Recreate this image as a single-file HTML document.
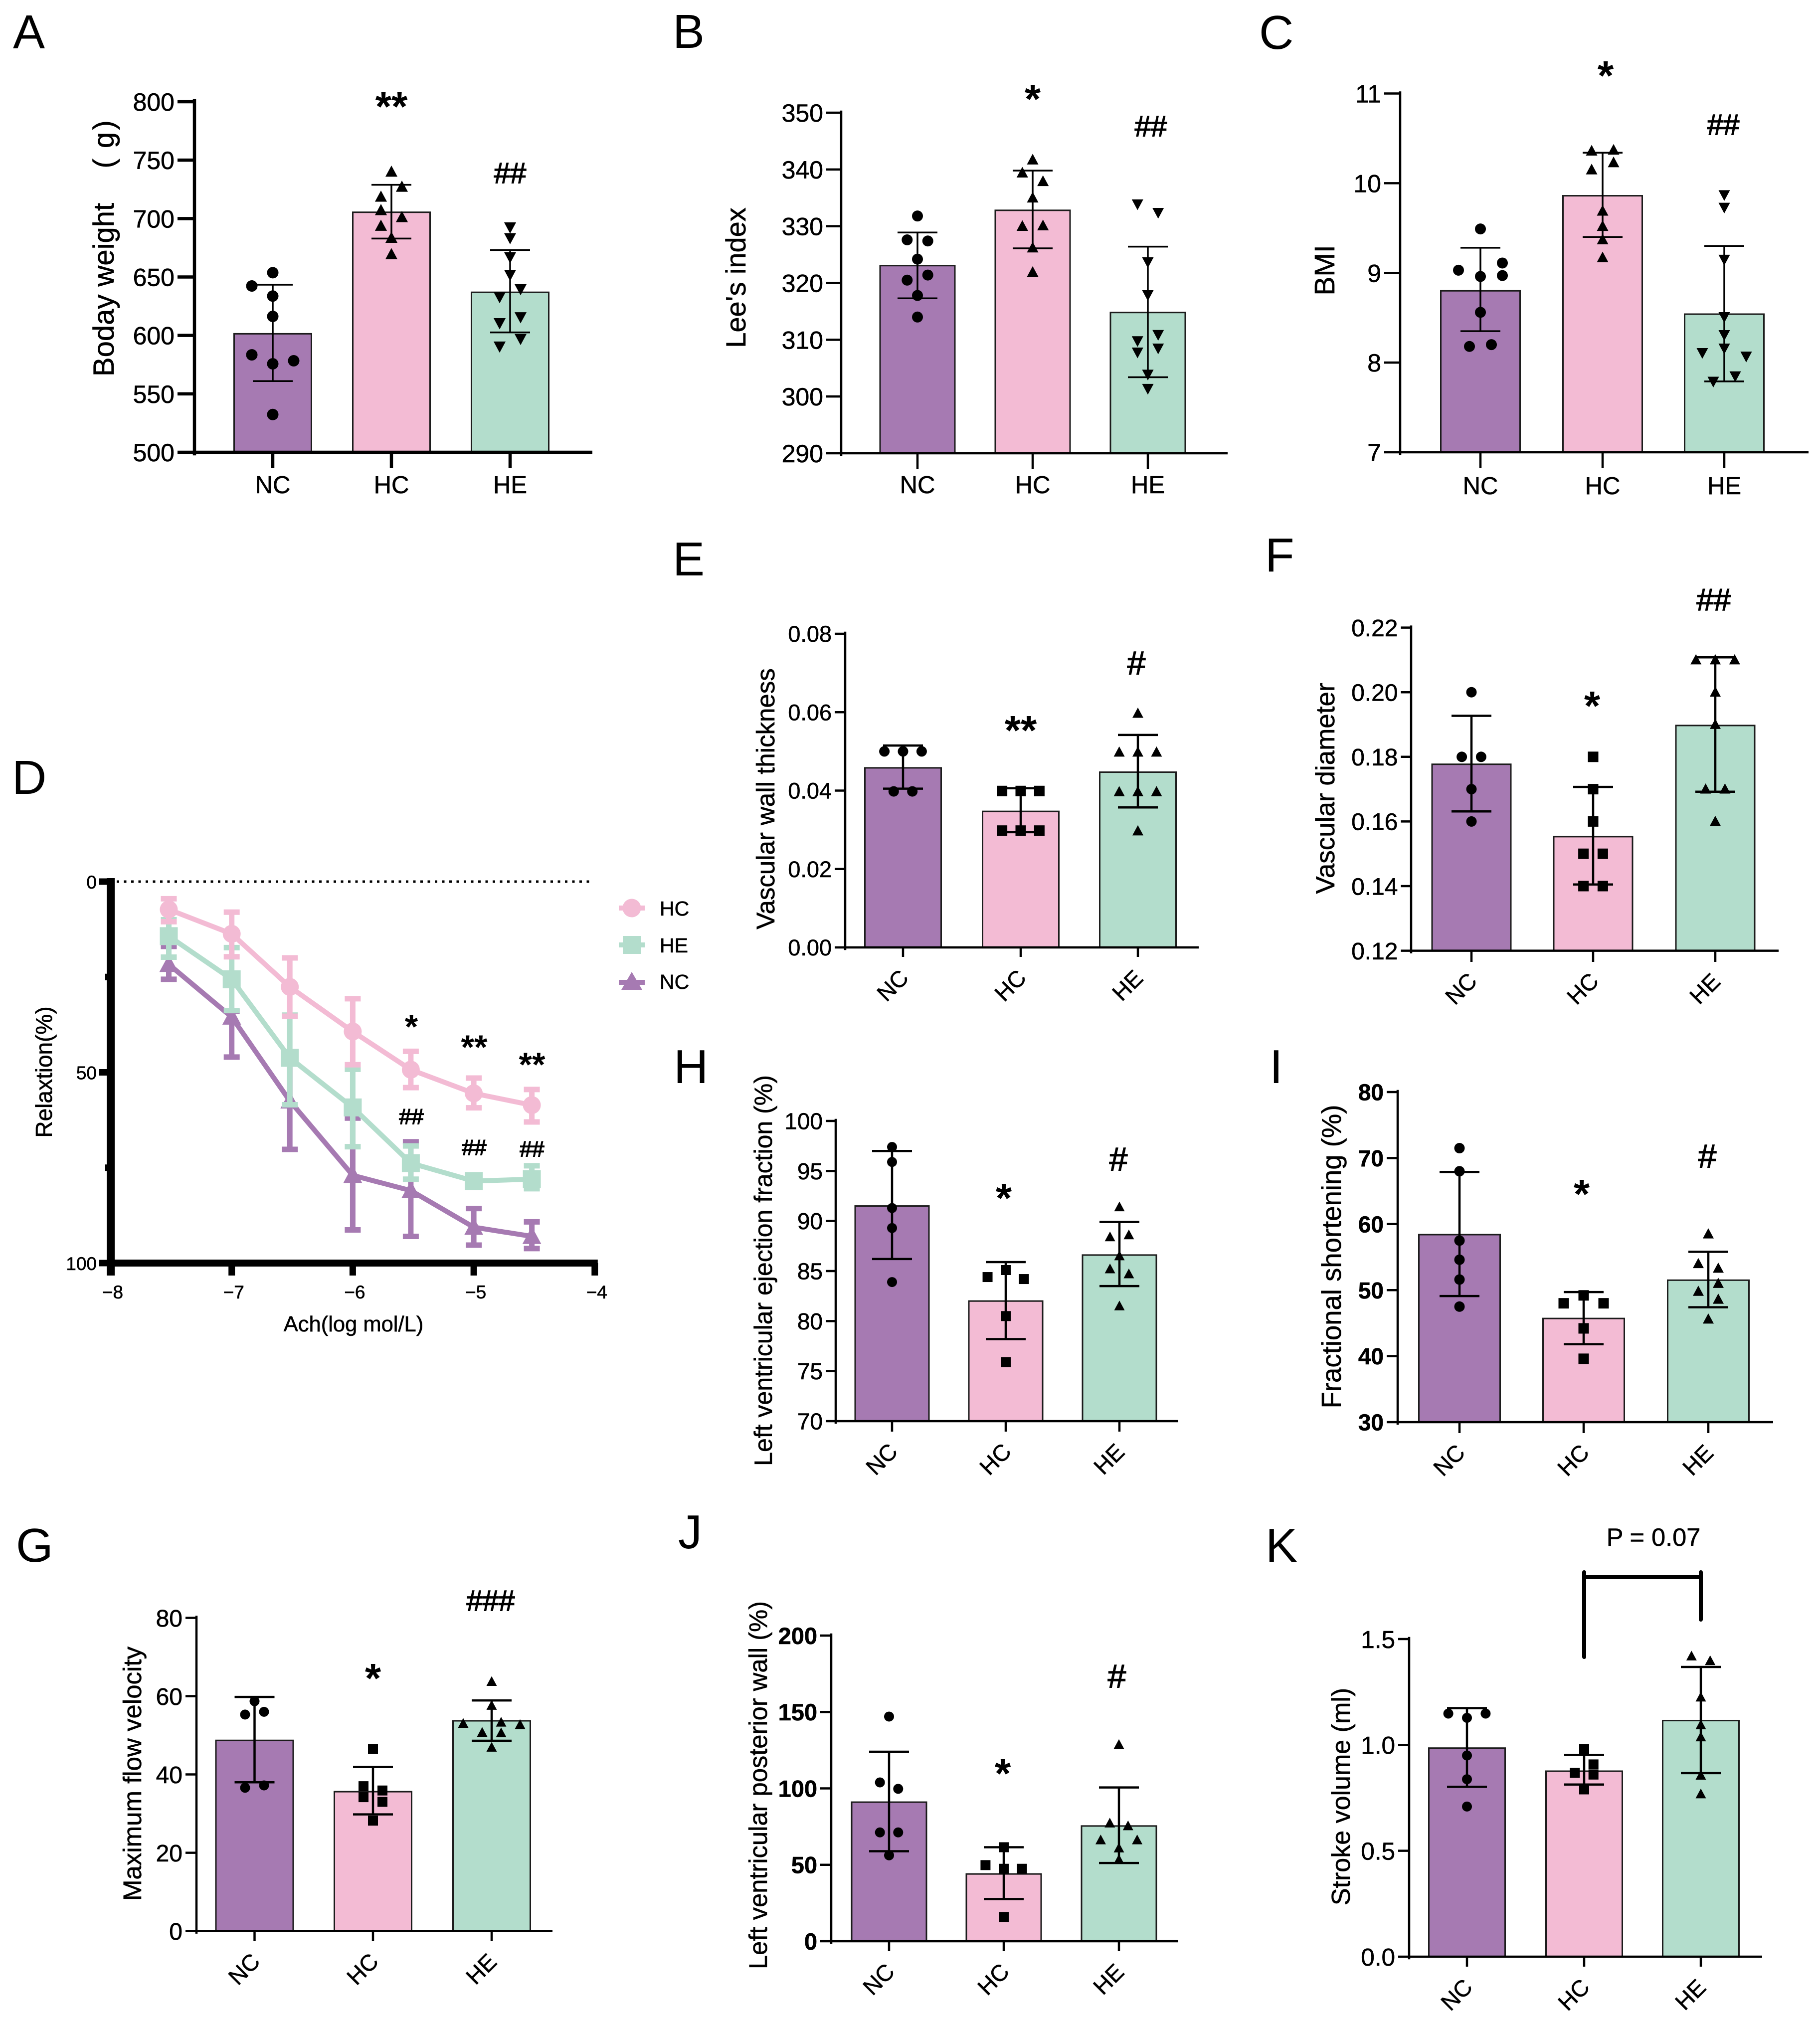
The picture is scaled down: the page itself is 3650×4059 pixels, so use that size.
<!DOCTYPE html>
<html lang="en">
<head>
<meta charset="utf-8">
<title>Panel figure: body metrics, vascular relaxation and cardiac function</title>
<style>
  html, body { margin: 0; padding: 0; background: #fff; }
  #figure { display: block; width: 3650px; height: 4059px; background: #fff; }
  text { font-family: "Liberation Sans", "Noto Sans CJK SC", sans-serif; fill: #000; stroke: #000; stroke-width: 0.6px; }
  .letter { font-size: 96px; stroke-width: 0; }
  .title { text-anchor: middle; }
  .star { font-weight: bold; font-size: 83px; text-anchor: middle; stroke-width: 0; }
  .hash { font-size: 58px; text-anchor: middle; stroke-width: 1.6px; }
  .hash-single { font-size: 66px; }
</style>
</head>
<body>
<svg id="figure" xmlns="http://www.w3.org/2000/svg" width="3650" height="4059" viewBox="0 0 3650 4059">
  <rect width="3650" height="4059" fill="#fff"/>

  <g>
    <text class="letter" x="26" y="97">A</text>
    <text class="letter" x="1349" y="96">B</text>
    <text class="letter" x="2525" y="98">C</text>
    <text class="letter" x="24" y="1592">D</text>
    <text class="letter" x="1349" y="1154">E</text>
    <text class="letter" x="2537" y="1146">F</text>
    <text class="letter" x="32" y="3132">G</text>
    <text class="letter" x="1351" y="2172">H</text>
    <text class="letter" x="2546" y="2172">I</text>
    <text class="letter" x="1360" y="3105">J</text>
    <text class="letter" x="2538" y="3132">K</text>
  </g>

  <g>
    <text class="title" font-size="58" transform="translate(228,581) rotate(-90)">Boday weight</text>
    <text class="title" font-size="58" transform="translate(228,328) rotate(-90)">(</text>
    <text class="title" font-size="58" transform="translate(228,281) rotate(-90)">g</text>
    <text class="title" font-size="58" transform="translate(228,251) rotate(-90)">)</text>
    <text class="title" font-size="56" transform="translate(1495,557) rotate(-90)">Lee's index</text>
    <text class="title" font-size="57" transform="translate(2676,542) rotate(-90)">BMI</text>
    <text class="title" font-size="46" transform="translate(104,2150) rotate(-90)">Relaxtion(%)</text>
    <text class="title" font-size="51" transform="translate(1553,1602) rotate(-90)">Vascular wall thickness</text>
    <text class="title" font-size="53" transform="translate(2676,1581) rotate(-90)">Vascular diameter</text>
    <text class="title" font-size="51" transform="translate(283,3557) rotate(-90)">Maximum flow velocity</text>
    <text class="title" font-size="50" transform="translate(1548,2548) rotate(-90)">Left ventricular ejection fraction (%)</text>
    <text class="title" font-size="54.5" transform="translate(2689,2520) rotate(-90)">Fractional shortening (%)</text>
    <text class="title" font-size="50.7" transform="translate(1538,3580) rotate(-90)">Left ventricular posterior wall (%)</text>
    <text class="title" font-size="52" transform="translate(2707,3603) rotate(-90)">Stroke volume (ml)</text>
    <text class="title" font-size="43.5" x="709" y="2670">Ach(log mol/L)</text>
  </g>

  <g id="charts"></g>

  <g>
    <text class="star" x="785" y="242">**</text>
    <text class="hash" x="1023" y="367">##</text>
    <text class="star" x="2071" y="227">*</text>
    <text class="hash" x="2308" y="273">##</text>
    <text class="star" x="3220" y="180">*</text>
    <text class="hash" x="3456" y="270">##</text>
    <text class="star" x="2047" y="1493">**</text>
    <text class="hash hash-single" x="2279" y="1352">#</text>
    <text class="star" x="3193" y="1444">*</text>
    <text class="hash" x="3437" y="1224" style="font-size:62px">##</text>
    <text class="star" x="2013" y="2431">*</text>
    <text class="hash hash-single" x="2243" y="2347">#</text>
    <text class="star" x="3172" y="2423">*</text>
    <text class="hash hash-single" x="3424" y="2341">#</text>
    <text class="star" x="748" y="3394">*</text>
    <text class="hash" x="984" y="3230">###</text>
    <text class="star" x="2011" y="3585">*</text>
    <text class="hash hash-single" x="2240" y="3384">#</text>
    <text class="star" x="825" y="2082" style="font-size:68px">*</text>
    <text class="star" x="951" y="2123" style="font-size:68px">**</text>
    <text class="star" x="1067" y="2158" style="font-size:68px">**</text>
    <text class="hash" x="825" y="2254" style="font-size:44px">##</text>
    <text class="hash" x="951" y="2316" style="font-size:44px">##</text>
    <text class="hash" x="1067" y="2319" style="font-size:44px">##</text>
  </g>

  <g>
    <text font-size="50.5" text-anchor="middle" x="3316" y="3100">P = 0.07</text>
    <path d="M3177 3323V3163H3411V3248M3177 3163V3153M3411 3163V3153" fill="none" stroke="#000" stroke-width="8" stroke-linecap="round"/>
  </g>

  <g>
    <g>
      <line x1="1241" x2="1293" y1="1821" y2="1821" stroke="#f3bbd4" stroke-width="10"/>
      <circle cx="1267" cy="1821" r="18.5" fill="#f3bbd4"/>
      <text x="1323" y="1836" font-size="41">HC</text>
    </g>
    <g>
      <line x1="1241" x2="1293" y1="1895" y2="1895" stroke="#b3ddcc" stroke-width="10"/>
      <rect x="1249" y="1877" width="36" height="36" fill="#b3ddcc"/>
      <text x="1323" y="1910" font-size="41">HE</text>
    </g>
    <g>
      <line x1="1241" x2="1293" y1="1970" y2="1970" stroke="#a67ab2" stroke-width="10"/>
      <path d="M1267 1949L1288 1985H1246Z" fill="#a67ab2"/>
      <text x="1323" y="1983" font-size="41">NC</text>
    </g>
  </g>
</svg>

<script>
// ---------- shared categories ----------
const categories = ['NC', 'HC', 'HE'];

// ---------- panel A: body weight ----------
const panelA_ticks = ['500', '550', '600', '650', '700', '750', '800'];
const panelA_means = [601.4, 705.4, 636.9];
const panelA_errHigh = [643.4, 728.9, 673.1];
const panelA_errLow = [560.9, 682.9, 602.6];
const panelA_points = [
  [653.7, 642.3, 633.7, 616.3, 583.4, 578.3, 575.7, 532.3],
  [740, 727.1, 718.6, 707.1, 701.1, 693.7, 683.4, 669.4],
  [692.6, 683.4, 667.1, 652, 639.7, 632.9, 615.7, 610.6, 597.1, 590.6]
];
const panelA_slots = [
  [0, -2, 0, 0, -2, 2, 0, 0],
  [0, 1, -1, -1, 1, -1, 0, 0],
  [0, 0, 0, 0, 1, -1, 1, -1, 1, -1]
];

// ---------- panel B: Lee's index ----------
const panelB_ticks = ['290', '300', '310', '320', '330', '340', '350'];
const panelB_means = [323.06, 332.8, 314.8];
const panelB_errHigh = [328.9, 339.8, 326.4];
const panelB_errLow = [317.3, 326.1, 303.4];
const panelB_points = [
  [331.8, 327.6, 327.4, 324.2, 321.4, 320.5, 317.8, 314],
  [341.7, 339.4, 337.9, 335, 330, 330.1, 326.2, 321.9],
  [333.9, 332.4, 323.7, 317.9, 310.9, 309.8, 308.5, 307.8, 303.9, 301.4]
];
const panelB_slots = [
  [0, -1, 1, 0, 1, -1, 0, 0],
  [0, -1, 1, 0, -1, 1, 0, 0],
  [-1, 1, 0, 0, 1, -1, 1, -1, 0, 0]
];

// ---------- panel C: BMI ----------
const panelC_ticks = ['7', '8', '9', '10', '11'];
const panelC_means = [8.8, 9.86, 8.54];
const panelC_errHigh = [9.28, 10.34, 9.3];
const panelC_errLow = [8.35, 9.4, 7.79];
const panelC_points = [
  [9.49, 9.11, 9.03, 8.96, 8.97, 8.56, 8.2, 8.18],
  [10.36, 10.37, 10.23, 10.15, 9.69, 9.52, 9.37, 9.17],
  [9.87, 9.73, 9.15, 8.51, 8.31, 8.16, 8.11, 8.07, 7.85, 7.79]
];
const panelC_slots = [
  [0, 2, -2, 0, 2, 0, 1, -1],
  [-1, 1, 1, -1, 0, 0, 0, 0],
  [0, 0, 0, 0, 0, 0, -2, 2, 1, -1]
];

// ---------- panel E: vascular wall thickness ----------
const panelE_ticks = ['0.00', '0.02', '0.04', '0.06', '0.08'];
const panelE_means = [0.0458, 0.0347, 0.0447];
const panelE_errHigh = [0.0515, 0.0406, 0.0542];
const panelE_errLow = [0.0405, 0.0294, 0.0357];
const panelE_points = [
  [0.05, 0.05, 0.05, 0.0398, 0.0398],
  [0.0399, 0.0399, 0.0399, 0.0298, 0.0298, 0.0298],
  [0.0597, 0.0498, 0.0498, 0.0498, 0.0397, 0.0397, 0.0397, 0.0297]
];
const panelE_slots = [
  [-2, 0, 2, -1, 1],
  [-2, 0, 2, -2, 0, 2],
  [0, -2, 0, 2, -2, 0, 2, 0]
];

// ---------- panel F: vascular diameter ----------
const panelF_ticks = ['0.12', '0.14', '0.16', '0.18', '0.20', '0.22'];
const panelF_means = [0.1777, 0.1553, 0.1897];
const panelF_errHigh = [0.1927, 0.1707, 0.2108];
const panelF_errLow = [0.1631, 0.1405, 0.1692];
const panelF_points = [
  [0.2, 0.18, 0.18, 0.17, 0.16],
  [0.18, 0.17, 0.16, 0.15, 0.15, 0.14, 0.14],
  [0.21, 0.21, 0.21, 0.2, 0.19, 0.17, 0.17, 0.16]
];
const panelF_slots = [
  [0, -1, 1, 0, 0],
  [0, 0, 0, -1, 1, -1, 1],
  [-2, 0, 2, 0, 0, -1, 1, 0]
];

// ---------- panel G: maximum flow velocity ----------
const panelG_ticks = ['0', '20', '40', '60', '80'];
const panelG_means = [48.7, 35.6, 53.7];
const panelG_errHigh = [59.8, 41.9, 58.9];
const panelG_errLow = [38, 29.8, 48.6];
const panelG_points = [
  [58.7, 56, 55.3, 37.2, 36.6],
  [46.5, 37, 35.9, 34.2, 33, 28.2],
  [63.7, 57.6, 53.3, 53, 52.7, 50.7, 50.6, 46.9]
];
const panelG_slots = [
  [0, 1, -1, 1, -1],
  [0, -1, 1, -1, 1, 0],
  [0, 0, 1, -3, 3, -1, 1, 0]
];

// ---------- panel H: LV ejection fraction ----------
const panelH_ticks = ['70', '75', '80', '85', '90', '95', '100'];
const panelH_means = [91.5, 82, 86.6];
const panelH_errHigh = [97, 85.9, 89.9];
const panelH_errLow = [86.2, 78.2, 83.5];
const panelH_points = [
  [97.4, 95.9, 91.3, 89.3, 83.9],
  [85.1, 84.4, 84.2, 80.5, 75.9],
  [91.4, 88.6, 88.4, 86.5, 85.2, 84.7, 81.5]
];
const panelH_slots = [
  [0, 0, 0, 0, 0],
  [0, -2.7, 2.7, 0, 0],
  [0, 1.4, -1.4, 0, -1.4, 1.4, 0]
];

// ---------- panel I: fractional shortening ----------
const panelI_ticks = ['30', '40', '50', '60', '70', '80'];
const panelI_means = [58.4, 45.7, 51.5];
const panelI_errHigh = [67.9, 49.7, 55.8];
const panelI_errLow = [49.1, 41.8, 47.4];
const panelI_points = [
  [71.5, 68, 57.5, 54.6, 51.6, 47.5],
  [49.2, 48, 48, 44.2, 39.6],
  [58.5, 54, 53.3, 51, 49.8, 48.6, 45.6]
];
const panelI_slots = [
  [0, 0, 0, 0, 0, 0],
  [0, -2, 2, 0, 0],
  [0, -1, 1, 1, -1, 1, 0]
];

// ---------- panel J: LV posterior wall ----------
const panelJ_ticks = ['0', '50', '100', '150', '200'];
const panelJ_means = [91, 44, 75.4];
const panelJ_errHigh = [124, 61.5, 100.6];
const panelJ_errLow = [58.9, 27.6, 51.2];
const panelJ_points = [
  [147, 103.9, 99.7, 71.2, 71.2, 56.2],
  [61.5, 49.8, 47.4, 47.4, 15.9],
  [128.6, 77.2, 75.4, 66.2, 66.2, 60.9, 53.4]
];
const panelJ_slots = [
  [0, -1, 1, -1, 1, 0],
  [0, -2, 0, 2, 0],
  [0, -1, 1, -2, 2, 0, 0]
];

// ---------- panel K: stroke volume ----------
const panelK_ticks = ['0.0', '0.5', '1.0', '1.5'];
const panelK_means = [0.985, 0.876, 1.115];
const panelK_errHigh = [1.174, 0.953, 1.368];
const panelK_errLow = [0.802, 0.813, 0.867];
const panelK_points = [
  [1.148, 1.148, 1.128, 0.95, 0.838, 0.709],
  [0.98, 0.908, 0.868, 0.86, 0.79],
  [1.419, 1.397, 1.225, 1.094, 1.037, 0.856, 0.768]
];
const panelK_slots = [
  [-2, 2, 0, 0, 0, 0],
  [0, 1, -1, 1, 0],
  [-1, 1, 0, 0, 0, 0, 0]
];

// ---------- panel D: dose-response ----------
const doseValues = [-7.52, -7, -6.52, -6, -5.52, -5, -4.52];
const doseXTicks = [-8, -7, -6, -5, -4];
const doseYTicks = [0, 50, 100];
const doseYMinorTicks = [25, 75];
const doseHC_means = [7.3, 13.7, 27.6, 39.3, 49.3, 55.5, 58.6];
const doseHC_errHigh = [4.5, 8, 20, 30.7, 44.5, 51.5, 54.5];
const doseHC_errLow = [10.5, 19.7, 35.3, 48, 54, 59.3, 63];
const doseHE_means = [14.3, 25.6, 46.2, 59.2, 73.8, 78.5, 78];
const doseHE_errHigh = [10, 17.3, 35, 49.2, 69.3, 77.5, 74.5];
const doseHE_errLow = [19.8, 33.8, 58.5, 69.5, 78, 80, 80.5];
const doseNC_means = [21.7, 35.5, 57.5, 77, 81, 90.6, 93];
const doseNC_errHigh = [17, 34, 45, 62, 68.2, 85.7, 89.2];
const doseNC_errLow = [25.6, 46, 70.2, 91.3, 93, 95.3, 96.2];

// ---------- drawing ----------
const SVG_NS = 'http://www.w3.org/2000/svg';
const root = document.getElementById('charts');
const BAR_COLORS = ['#a67ab2', '#f3bbd4', '#b3ddcc'];

function mk(parent, tag, attrs, content) {
  const node = document.createElementNS(SVG_NS, tag);
  for (const key in attrs) node.setAttribute(key, attrs[key]);
  if (content !== undefined) node.textContent = content;
  parent.appendChild(node);
  return node;
}

function markerPath(shape, x, y, r) {
  if (shape === 'up') return 'M' + x + ' ' + (y - r * 1.1) + 'L' + (x + r * 1.05) + ' ' + (y + r * 0.85) + 'H' + (x - r * 1.05) + 'Z';
  if (shape === 'down') return 'M' + x + ' ' + (y + r * 1.1) + 'L' + (x + r * 1.05) + ' ' + (y - r * 0.85) + 'H' + (x - r * 1.05) + 'Z';
  return '';
}

function drawMarker(parent, shape, x, y, r, fill) {
  if (shape === 'circle') return mk(parent, 'circle', { cx: x, cy: y, r: r, fill: fill });
  if (shape === 'square') return mk(parent, 'rect', { x: x - r, y: y - r, width: 2 * r, height: 2 * r, fill: fill });
  return mk(parent, 'path', { d: markerPath(shape, x, y, r), fill: fill });
}

function drawBarPanel(cfg) {
  const g = mk(root, 'g', {});
  
  

  const domainMin = parseFloat(cfg.ticks[0]);
  const domainMax = parseFloat(cfg.ticks[cfg.ticks.length - 1]);
  const yScale = function (v) {
    return cfg.yBottom - (v - domainMin) / (domainMax - domainMin) * (cfg.yBottom - cfg.yTop);
  };

  // bars, whiskers, points
  categories.forEach(function (cat, i) {
    const cx = cfg.centers[i];
    const yTopBar = yScale(cfg.means[i]);
    const bar = mk(g, 'rect', {
      x: cx - cfg.barWidth / 2, y: yTopBar,
      width: cfg.barWidth, height: cfg.yBottom - yTopBar,
      fill: BAR_COLORS[i], stroke: '#1c1c1c', 'stroke-width': 3
    });
    
    

    const whisker = mk(g, 'path', {
      d: 'M' + cx + ' ' + yScale(cfg.errHigh[i]) + 'V' + yScale(cfg.errLow[i]) +
         'M' + (cx - 40) + ' ' + yScale(cfg.errHigh[i]) + 'H' + (cx + 40) +
         'M' + (cx - 40) + ' ' + yScale(cfg.errLow[i]) + 'H' + (cx + 40),
      fill: 'none', stroke: '#000', 'stroke-width': cfg.errWidth
    });
    
    

    cfg.points[i].forEach(function (val, k) {
      const px = cx + cfg.slots[i][k] * cfg.slotUnit;
      const point = drawMarker(g, cfg.shapes[i], px, yScale(val), cfg.markerR, '#000');
      
      
    });

    // category tick and label
    const xTick = mk(g, 'line', {
      x1: cx, x2: cx, y1: cfg.yBottom, y2: cfg.xTickEnd,
      stroke: '#000', 'stroke-width': cfg.axisWidth
    });
    
    

    let label;
    if (cfg.rotated) {
      const lx = cx - 21;
      const ly = cfg.yBottom + 76;
      label = mk(g, 'text', {
        x: lx, y: ly + 16, 'font-size': 46, 'text-anchor': 'middle',
        transform: 'rotate(-45 ' + lx + ' ' + ly + ')'
      }, cat);
    } else {
      label = mk(g, 'text', {
        x: cx, y: cfg.yBottom + cfg.labelOffset, 'font-size': 49, 'text-anchor': 'middle'
      }, cat);
    }
    
    
  });

  // axes
  const yAxis = mk(g, 'line', {
    x1: cfg.axisX, x2: cfg.axisX, y1: cfg.yTop - cfg.axisWidth / 2 - 2, y2: cfg.yBottom + cfg.axisWidth / 2 + 3,
    stroke: '#000', 'stroke-width': cfg.axisWidth
  });
  
  

  const xAxis = mk(g, 'line', {
    x1: cfg.axisX - cfg.axisWidth / 2, x2: cfg.xEnd, y1: cfg.yBottom, y2: cfg.yBottom,
    stroke: '#000', 'stroke-width': cfg.axisWidth
  });
  
  

  cfg.ticks.forEach(function (tick) {
    const ty = yScale(parseFloat(tick));
    const yTick = mk(g, 'line', {
      x1: cfg.tickLeft, x2: cfg.axisX, y1: ty, y2: ty,
      stroke: '#000', 'stroke-width': cfg.axisWidth
    });
    
    

    const tickLabel = mk(g, 'text', {
      x: cfg.tickLeft - 6, y: ty + cfg.tickFont * 0.36,
      'font-size': cfg.tickFont, 'text-anchor': 'end',
      'font-weight': cfg.boldTicks ? 'bold' : 'normal'
    }, tick);
    
    
  });
}

function drawDosePanel() {
  const g = mk(root, 'g', {});
  
  

  const xScale = function (v) { return 222 + (v + 8) * 242.7; };
  const yScale = function (v) { return 1768 + v * 7.65; };

  const dotted = mk(g, 'line', {
    x1: xScale(-8) + 12, x2: xScale(-4) - 8, y1: yScale(0), y2: yScale(0),
    stroke: '#000', 'stroke-width': 5, 'stroke-dasharray': '5 9.5'
  });
  
  

  const seriesList = [
    { name: 'nc', color: '#a67ab2', shape: 'up', means: doseNC_means, hi: doseNC_errHigh, lo: doseNC_errLow },
    { name: 'he', color: '#b3ddcc', shape: 'square', means: doseHE_means, hi: doseHE_errHigh, lo: doseHE_errLow },
    { name: 'hc', color: '#f3bbd4', shape: 'circle', means: doseHC_means, hi: doseHC_errHigh, lo: doseHC_errLow }
  ];

  seriesList.forEach(function (s) {
    const sg = mk(g, 'g', {});
    
    

    doseValues.forEach(function (dose, i) {
      const x = xScale(dose);
      const whisker = mk(sg, 'path', {
        d: 'M' + x + ' ' + yScale(s.hi[i]) + 'V' + yScale(s.lo[i]) +
           'M' + (x - 16) + ' ' + yScale(s.hi[i]) + 'H' + (x + 16) +
           'M' + (x - 16) + ' ' + yScale(s.lo[i]) + 'H' + (x + 16),
        fill: 'none', stroke: s.color, 'stroke-width': 11
      });
      
      
    });

    const linePts = doseValues.map(function (dose, i) {
      return xScale(dose) + ',' + yScale(s.means[i]);
    }).join(' ');
    const line = mk(sg, 'polyline', {
      points: linePts, fill: 'none', stroke: s.color, 'stroke-width': 10, 'stroke-linejoin': 'round'
    });
    
    

    doseValues.forEach(function (dose, i) {
      const marker = drawMarker(sg, s.shape, xScale(dose), yScale(s.means[i]), 18, s.color);
      
      
    });
  });

  const yAxis = mk(g, 'line', {
    x1: xScale(-8), x2: xScale(-8), y1: yScale(0) - 7, y2: yScale(100) + 25,
    stroke: '#000', 'stroke-width': 16
  });
  
  

  const xAxis = mk(g, 'line', {
    x1: xScale(-8), x2: xScale(-4) + 6, y1: yScale(100), y2: yScale(100),
    stroke: '#000', 'stroke-width': 14
  });
  
  

  doseYTicks.forEach(function (t) {
    const tick = mk(g, 'line', {
      x1: 199, x2: 222, y1: yScale(t), y2: yScale(t), stroke: '#000', 'stroke-width': 13
    });
    
    

    const label = mk(g, 'text', {
      x: 194, y: yScale(t) + 14, 'font-size': 37, 'text-anchor': 'end'
    }, String(t));
    
    
  });

  doseYMinorTicks.forEach(function (t) {
    const tick = mk(g, 'line', {
      x1: 211, x2: 222, y1: yScale(t), y2: yScale(t), stroke: '#000', 'stroke-width': 13
    });
    
    
  });

  doseXTicks.forEach(function (t) {
    const tick = mk(g, 'line', {
      x1: xScale(t), x2: xScale(t), y1: yScale(100), y2: 2558, stroke: '#000', 'stroke-width': 13
    });
    
    

    const label = mk(g, 'text', {
      x: xScale(t) + 4, y: 2604, 'font-size': 37, 'text-anchor': 'middle'
    }, '\u2212' + Math.abs(t));
    
    
  });
}

const SHAPES_ABC = ['circle', 'up', 'down'];
const SHAPES_REST = ['circle', 'square', 'up'];

drawBarPanel({ id: 'a', ticks: panelA_ticks, means: panelA_means, errHigh: panelA_errHigh, errLow: panelA_errLow, points: panelA_points, slots: panelA_slots,
  shapes: SHAPES_ABC, axisX: 390, yTop: 204, yBottom: 907, xEnd: 1188, tickLeft: 356, xTickEnd: 939, centers: [547, 785, 1023], barWidth: 155, axisWidth: 6.5, errWidth: 3.5, slotUnit: 21, markerR: 11.5, tickFont: 50, labelOffset: 82 });
drawBarPanel({ id: 'b', ticks: panelB_ticks, means: panelB_means, errHigh: panelB_errHigh, errLow: panelB_errLow, points: panelB_points, slots: panelB_slots,
  shapes: SHAPES_ABC, axisX: 1687, yTop: 226, yBottom: 909, xEnd: 2462, tickLeft: 1657, xTickEnd: 941, centers: [1840, 2071, 2302], barWidth: 150, axisWidth: 4.5, errWidth: 3.5, slotUnit: 20.7, markerR: 11, tickFont: 50, labelOffset: 80 });
drawBarPanel({ id: 'c', ticks: panelC_ticks, means: panelC_means, errHigh: panelC_errHigh, errLow: panelC_errLow, points: panelC_points, slots: panelC_slots,
  shapes: SHAPES_ABC, axisX: 2808, yTop: 187.5, yBottom: 907, xEnd: 3627, tickLeft: 2776, xTickEnd: 939, centers: [2969, 3214, 3458], barWidth: 159, axisWidth: 4.5, errWidth: 3.5, slotUnit: 22, markerR: 11, tickFont: 50, labelOffset: 84 });
drawBarPanel({ id: 'e', rotated: true, ticks: panelE_ticks, means: panelE_means, errHigh: panelE_errHigh, errLow: panelE_errLow, points: panelE_points, slots: panelE_slots,
  shapes: SHAPES_REST, axisX: 1695, yTop: 1271, yBottom: 1900, xEnd: 2404, tickLeft: 1674, xTickEnd: 1919, centers: [1811, 2047, 2282], barWidth: 153, axisWidth: 4.5, errWidth: 4.5, slotUnit: 18.7, markerR: 10.5, tickFont: 45 });
drawBarPanel({ id: 'f', rotated: true, ticks: panelF_ticks, means: panelF_means, errHigh: panelF_errHigh, errLow: panelF_errLow, points: panelF_points, slots: panelF_slots,
  shapes: SHAPES_REST, axisX: 2830, yTop: 1258.6, yBottom: 1906.6, xEnd: 3567, tickLeft: 2809.5, xTickEnd: 1929, centers: [2951, 3195, 3440], barWidth: 158, axisWidth: 4.5, errWidth: 4.5, slotUnit: 19.4, markerR: 10.5, tickFont: 48 });
drawBarPanel({ id: 'h', rotated: true, ticks: panelH_ticks, means: panelH_means, errHigh: panelH_errHigh, errLow: panelH_errLow, points: panelH_points, slots: panelH_slots,
  shapes: SHAPES_REST, axisX: 1676, yTop: 2248, yBottom: 2850, xEnd: 2363, tickLeft: 1656, xTickEnd: 2871, centers: [1789, 2017, 2245], barWidth: 148, axisWidth: 4.5, errWidth: 4.5, slotUnit: 13.5, markerR: 10, tickFont: 46 });
drawBarPanel({ id: 'i', rotated: true, boldTicks: true, ticks: panelI_ticks, means: panelI_means, errHigh: panelI_errHigh, errLow: panelI_errLow, points: panelI_points, slots: panelI_slots,
  shapes: SHAPES_REST, axisX: 2803, yTop: 2190, yBottom: 2852, xEnd: 3556, tickLeft: 2781, xTickEnd: 2874, centers: [2927, 3176, 3426], barWidth: 163, axisWidth: 4.5, errWidth: 4.5, slotUnit: 20, markerR: 10.5, tickFont: 46 });
drawBarPanel({ id: 'g', rotated: true, ticks: panelG_ticks, means: panelG_means, errHigh: panelG_errHigh, errLow: panelG_errLow, points: panelG_points, slots: panelG_slots,
  shapes: SHAPES_REST, axisX: 394, yTop: 3244.5, yBottom: 3872.6, xEnd: 1108, tickLeft: 372, xTickEnd: 3893, centers: [510.5, 748, 986], barWidth: 155, axisWidth: 4.5, errWidth: 4.5, slotUnit: 19, markerR: 10, tickFont: 48 });
drawBarPanel({ id: 'j', rotated: true, boldTicks: true, ticks: panelJ_ticks, means: panelJ_means, errHigh: panelJ_errHigh, errLow: panelJ_errLow, points: panelJ_points, slots: panelJ_slots,
  shapes: SHAPES_REST, axisX: 1667, yTop: 3280, yBottom: 3893, xEnd: 2363, tickLeft: 1645, xTickEnd: 3913, centers: [1783, 2013, 2244], barWidth: 150, axisWidth: 4.5, errWidth: 4.5, slotUnit: 18.3, markerR: 10, tickFont: 47 });
drawBarPanel({ id: 'k', rotated: true, ticks: panelK_ticks, means: panelK_means, errHigh: panelK_errHigh, errLow: panelK_errLow, points: panelK_points, slots: panelK_slots,
  shapes: SHAPES_REST, axisX: 2826, yTop: 3287, yBottom: 3924, xEnd: 3534, tickLeft: 2804, xTickEnd: 3944, centers: [2942, 3177, 3411], barWidth: 153, axisWidth: 4.5, errWidth: 4.5, slotUnit: 18.7, markerR: 10, tickFont: 49.5 });
drawDosePanel();
</script>
</body>
</html>
